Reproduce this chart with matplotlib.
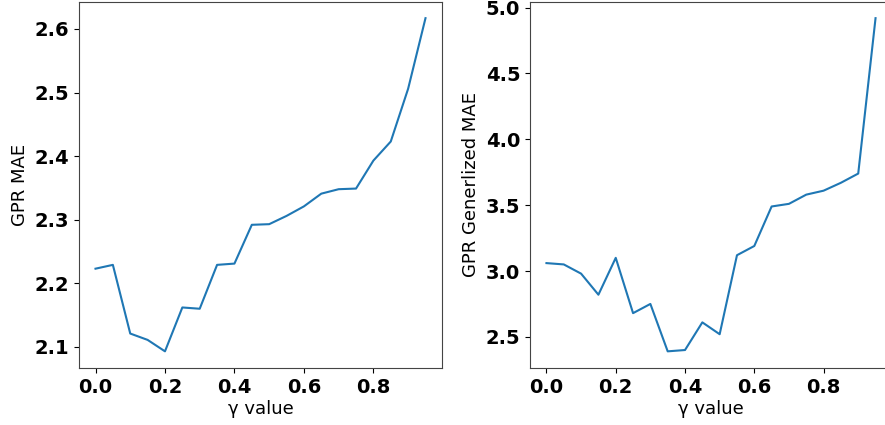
import numpy as np
import matplotlib
matplotlib.use("Agg")
import matplotlib.pyplot as plt

# gamma values on the x axis
gamma = [0.00, 0.05, 0.10, 0.15, 0.20, 0.25, 0.30, 0.35, 0.40, 0.45,
         0.50, 0.55, 0.60, 0.65, 0.70, 0.75, 0.80, 0.85, 0.90, 0.95]

# left panel: GPR MAE
gpr_mae = [2.223, 2.229, 2.121, 2.111, 2.093, 2.162, 2.160, 2.229, 2.231, 2.292,
           2.293, 2.306, 2.321, 2.341, 2.348, 2.349, 2.393, 2.423, 2.506, 2.617]

# right panel: GPR generalized MAE
gpr_gen_mae = [3.06, 3.05, 2.98, 2.82, 3.10, 2.68, 2.75, 2.39, 2.40, 2.61,
               2.52, 3.12, 3.19, 3.49, 3.51, 3.58, 3.61, 3.67, 3.74, 4.92]

fig = plt.figure(figsize=(8.85, 4.25), dpi=100)
W, H = 885, 425

# axes placed in pixel terms (right panel runs past the crop edge)
ax1 = fig.add_axes([79 / W, 1 - 368 / H, (442 - 79) / W, (368 - 1.5) / H])
ax2 = fig.add_axes([530 / W, 1 - 368 / H, (892 - 530) / W, (368 - 1.5) / H])

ax1.plot(gamma, gpr_mae, color="#1f77b4", linewidth=1.5)
ax2.plot(gamma, gpr_gen_mae, color="#1f77b4", linewidth=1.5)

ax1.set_ylabel("GPR MAE", fontsize=13)
ax2.set_ylabel("GPR Generlized MAE", fontsize=13)
ax2.set_yticks([2.5, 3.0, 3.5, 4.0, 4.5, 5.0])

for ax in [ax1, ax2]:
    ax.set_xlabel("γ value", fontsize=13, labelpad=2)
    ax.set_xticks([0.0, 0.2, 0.4, 0.6, 0.8])
    for lbl in ax.get_xticklabels() + ax.get_yticklabels():
        lbl.set_fontweight("bold")
        lbl.set_fontsize(14)
    for sp in ax.spines.values():
        sp.set_color("#444444")

fig.savefig("out.png", dpi=100)
